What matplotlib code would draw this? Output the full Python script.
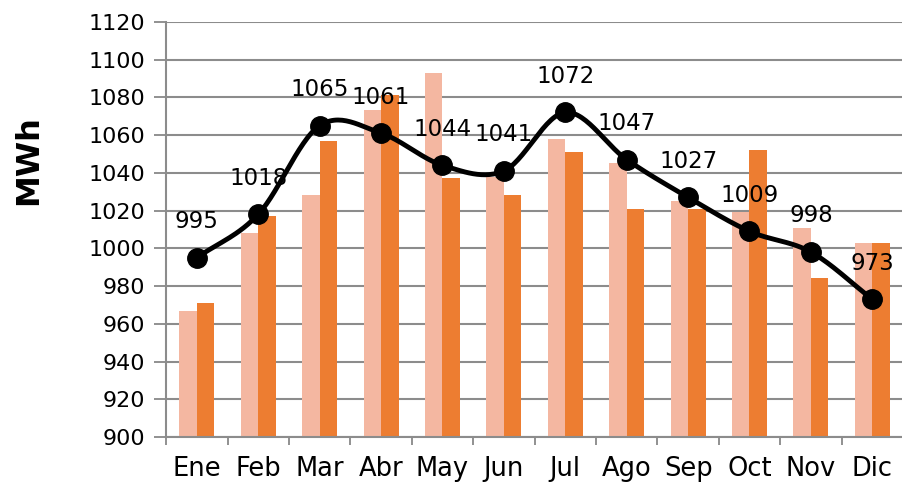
import matplotlib.pyplot as plt
import numpy as np

months = ["Ene", "Feb", "Mar", "Abr", "May", "Jun", "Jul", "Ago", "Sep", "Oct", "Nov", "Dic"]
light_vals = [967, 1008, 1028, 1073, 1093, 1038, 1058, 1045, 1025, 1019, 1011, 1003]
dark_vals = [971, 1017, 1057, 1081, 1037, 1028, 1051, 1021, 1021, 1052, 984, 1003]
line_vals = [995, 1018, 1065, 1061, 1044, 1041, 1072, 1047, 1027, 1009, 998, 973]

yticks = list(range(900, 1121, 20))


def smooth(x, y, n=30):
    # Catmull-Rom style curve through the points, like Excel's smoothed line
    x = np.asarray(x, float)
    y = np.asarray(y, float)
    px = np.concatenate([[2 * x[0] - x[1]], x, [2 * x[-1] - x[-2]]])
    py = np.concatenate([[2 * y[0] - y[1]], y, [2 * y[-1] - y[-2]]])
    xs, ys = [], []
    for i in range(1, len(px) - 2):
        t = np.linspace(0, 1, n, endpoint=False)
        for arr, out in ((px, xs), (py, ys)):
            p0, p1, p2, p3 = arr[i - 1], arr[i], arr[i + 1], arr[i + 2]
            out.extend(0.5 * ((2 * p1) + (-p0 + p2) * t
                              + (2 * p0 - 5 * p1 + 4 * p2 - p3) * t ** 2
                              + (-p0 + 3 * p1 - 3 * p2 + p3) * t ** 3))
    xs.append(x[-1])
    ys.append(y[-1])
    return np.array(xs), np.array(ys)


plt.rcParams['font.family'] = ['DejaVu Sans']

fig = plt.figure(figsize=(9.03, 4.84), dpi=100)
ax = fig.add_axes([0.184, 0.097, 0.816, 0.858])

x = np.arange(len(months))
w = 0.285
ax.bar(x - w / 2, light_vals, width=w, color="#F4B7A1", zorder=2)
ax.bar(x + w / 2, dark_vals, width=w, color="#ED7D31", zorder=2)

sx, sy = smooth(x, line_vals)
ax.plot(sx, sy, color="black", linewidth=3.5, zorder=3)
ax.plot(x, line_vals, "o", color="black", markersize=14, zorder=4)
for xi, v in zip(x, line_vals):
    ax.annotate(str(v), (xi, v), xytext=(0, 26), textcoords="offset points",
                ha="center", va="center", fontsize=16.5, zorder=5)

ax.set_ylim(900, 1120)
ax.set_xlim(-0.5, len(months) - 0.5)
ax.set_yticks(yticks)
ax.set_yticklabels([str(t) for t in yticks], fontsize=16)
ax.set_xticks(x)
ax.set_xticklabels(months, fontsize=18.5)
ax.set_xticks(np.arange(-0.5, len(months)), minor=True)
ax.tick_params(axis="x", which="major", length=0, pad=14)
ax.tick_params(axis="x", which="minor", length=6, color="#888888", width=1.3)
ax.tick_params(axis="y", length=9, color="#888888", width=1.3, pad=6)

ax.grid(axis="y", color="#8c8c8c", linewidth=1.5, zorder=0)
ax.set_axisbelow(True)
for s in ("top", "right"):
    ax.spines[s].set_visible(False)
for s in ("left", "bottom"):
    ax.spines[s].set_color("#8c8c8c")
    ax.spines[s].set_linewidth(1.5)

fig.text(0.032, 0.67, "MWh", rotation=90, fontsize=23, fontweight="bold",
         ha="center", va="center")

fig.savefig("out.png", dpi=100)
